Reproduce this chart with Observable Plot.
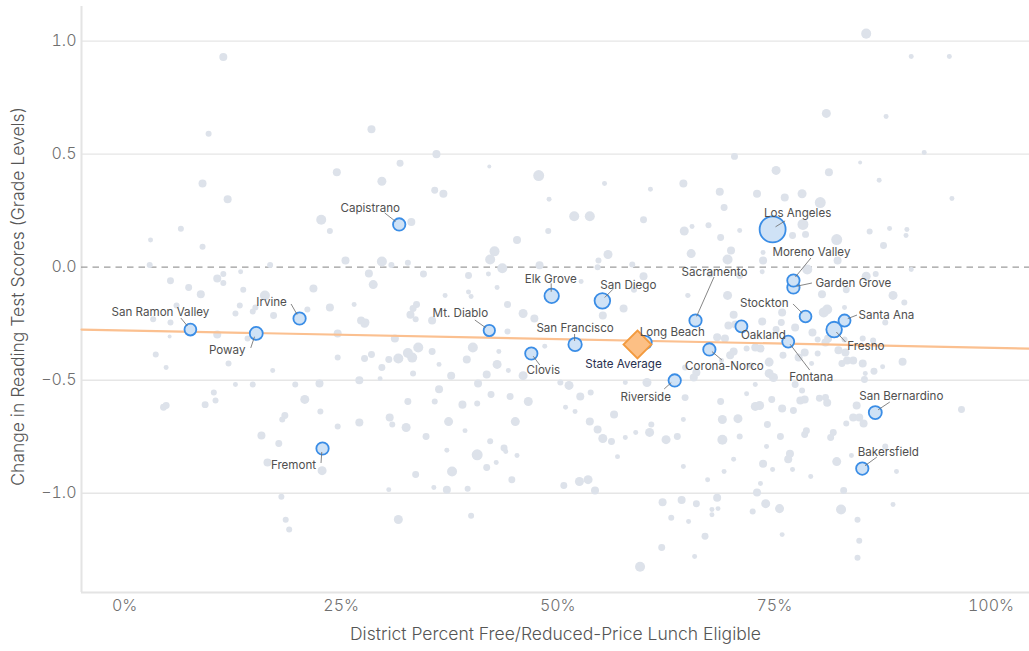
<!DOCTYPE html>
<html><head><meta charset="utf-8">
<script src="https://cdn.jsdelivr.net/npm/d3@7"></script>
<script src="https://cdn.jsdelivr.net/npm/@observablehq/plot@0.6"></script>
<style>body{margin:0;background:#fff;} #chart svg{display:block;}</style>
</head><body><div id="chart"></div>
<script>
// ---------- DATA ----------
const districtNames = ["San Ramon Valley","Poway","Irvine","Fremont","Capistrano","Mt. Diablo","Elk Grove","San Diego","San Francisco","Clovis","Long Beach","Riverside","Sacramento","Corona-Norco","Oakland","Fontana","Los Angeles","Garden Grove","Moreno Valley","Stockton","Fresno","Santa Ana","San Bernardino","Bakersfield"];
const districtPct =    [7.6, 15.2, 20.2, 22.85, 31.7, 42.1, 49.3, 55.15, 52.0, 46.95, 60.1, 63.5, 65.9, 67.5, 71.2, 76.6, 74.8, 77.2, 77.2, 78.6, 81.9, 83.1, 86.65, 85.15];
const districtChange = [-0.276, -0.293, -0.227, -0.802, 0.189, -0.280, -0.127, -0.149, -0.342, -0.382, -0.333, -0.501, -0.236, -0.364, -0.262, -0.329, 0.167, -0.090, -0.059, -0.218, -0.276, -0.236, -0.643, -0.891];
const districtEnroll = [124, 150, 136, 136, 136, 115, 184, 216, 159, 136, 150, 136, 136, 136, 128, 128, 600, 136, 136, 124, 216, 128, 150, 136];

const stateName = ["State Average"];
const statePct = [59.2];
const stateChange = [-0.342];

const trendPct = [-4.97, 104.45];
const trendChange = [-0.276, -0.360];

const xTicks = [0, 25, 50, 75, 100];
const yTicks = [-1.0, -0.5, 0.0, 0.5, 1.0];
const xDomain = [-4.97, 104.45];
const yDomain = [-1.439, 1.153];

// background districts: [percent eligible, change, enrollment (thousands)]
const background = [
[11.4,0.93,57],[9.7,0.59,32],[9.0,0.37,57],[11.9,0.30,57],[6.5,0.17,32],[3.0,0.12,22],[9.0,0.09,32],[24.5,0.42,57],[22.7,0.21,89],[23.7,0.16,32],
[2.9,0.01,32],[16.8,0.01,32],[25.5,0.03,57],[5.3,-0.06,43],[7.4,-0.09,43],[8.8,-0.12,57],[10.7,-0.05,57],[11.4,-0.03,32],[11.4,-0.07,32],[13.4,-0.02,22],
[13.7,-0.10,32],[16.2,-0.125,89],[21.8,-0.094,57],[6.0,-0.17,32],[13.3,-0.17,32],[14.8,-0.196,32],[15.1,-0.178,32],[12.8,-0.205,32],[17.2,-0.214,43],[21.1,-0.187,32],
[23.7,-0.178,57],[3.3,-0.23,32],[5.3,-0.245,32],[5.2,-0.307,14],[10.7,-0.298,57],[14.2,-0.315,32],[24.6,-0.293,57],[3.6,-0.386,32],[24.6,-0.40,32],[4.8,-0.444,22],
[12.0,-0.426,32],[17.1,-0.457,22],[12.8,-0.519,22],[14.8,-0.519,32],[19.7,-0.519,32],[22.5,-0.515,57],[10.3,-0.554,32],[10.5,-0.59,32],[20.8,-0.585,72],[4.5,-0.62,43],
[4.8,-0.612,43],[9.3,-0.608,43],[18.5,-0.656,43],[18.2,-0.674,32],[22.6,-0.638,32],[24.6,-0.705,32],[15.8,-0.745,57],[17.8,-0.78,43],[16.5,-0.864,57],[22.8,-0.90,72],
[18.1,-1.015,32],[18.6,-1.117,32],[19.0,-1.16,32],
[28.5,0.61,57],[36.0,0.50,57],[31.8,0.46,43],[42.1,0.445,14],[29.7,0.38,72],[35.8,0.34,43],[36.8,0.325,57],[47.8,0.405,107],[49.0,0.30,22],[55.4,0.37,22],
[60.7,0.345,22],[64.5,0.37,57],[51.9,0.225,89],[53.7,0.225,89],[59.9,0.21,43],[64.6,0.16,72],[33.1,0.20,57],[48.9,0.16,32],[45.3,0.12,57],[42.7,0.07,89],
[42.2,0.034,89],[29.7,0.025,89],[30.8,0.01,32],[32.7,0.02,32],[43.6,-0.005,89],[47.9,0.008,57],[54.7,0.03,32],[54.6,0.0,32],[55.8,0.056,72],[58.6,0.012,32],
[28.2,-0.028,57],[28.7,-0.077,72],[34.5,-0.03,43],[39.7,-0.037,43],[42.0,-0.03,22],[37.0,-0.125,22],[43.0,-0.09,22],[39.7,-0.11,22],[40.0,-0.13,22],[26.5,-0.165,22],
[33.7,-0.165,43],[33.3,-0.183,43],[33.0,-0.21,57],[44.2,-0.165,43],[46.0,-0.205,72],[47.3,-0.227,57],[52.7,-0.063,22],[57.6,-0.183,57],[59.9,-0.04,57],[58.8,-0.10,32],
[65.0,-0.125,22],[27.3,-0.236,57],[27.7,-0.25,57],[35.5,-0.236,57],[33.6,-0.23,32],[55.2,-0.214,57],
[85.6,1.033,89],[90.8,0.932,22],[95.2,0.932,22],[81.0,0.68,72],[87.9,0.666,22],[92.3,0.507,22],[70.4,0.49,43],[75.2,0.428,72],[81.3,0.42,57],[84.9,0.463,14],
[87.1,0.384,22],[68.7,0.334,57],[73.0,0.325,57],[76.2,0.308,57],[78.2,0.325,72],[80.3,0.286,107],[69.2,0.264,43],[95.5,0.304,22],[78.3,0.189,107],[77.1,0.14,43],
[78.6,0.145,43],[82.2,0.122,107],[86.0,0.158,32],[88.3,0.171,22],[90.3,0.167,22],[90.2,0.14,22],[67.4,0.185,32],[65.5,0.18,22],[71.0,0.162,22],[68.8,0.131,43],
[65.4,0.06,72],[70.0,0.074,57],[69.6,0.034,89],[73.7,0.03,57],[73.7,0.065,22],[82.3,0.03,57],[87.6,0.096,43],[78.8,-0.01,89],[73.6,-0.02,22],[90.8,-0.01,22],
[65.1,-0.125,14],[69.6,-0.125,72],[80.5,-0.12,57],[83.3,-0.1,43],[85.6,-0.04,72],[86.7,-0.03,32],[88.7,-0.125,72],[90.0,-0.156,32],[70.3,-0.21,57],[75.9,-0.20,57],
[80.7,-0.20,89],[81.1,-0.187,89],[83.1,-0.178,22],[87.8,-0.245,32],[67.6,-0.03,43],[71.0,-0.037,43],
[27.8,-0.245,57],[31.2,-0.315,57],[33.9,-0.355,89],[35.5,-0.373,43],[40.2,-0.355,89],[44.2,-0.285,32],[28.5,-0.386,43],[27.7,-0.404,43],[31.6,-0.404,89],[32.7,-0.38,89],
[33.2,-0.40,89],[39.5,-0.408,57],[29.7,-0.444,43],[30.5,-0.408,43],[36.3,-0.43,22],[43.0,-0.43,72],[27.1,-0.50,57],[29.5,-0.493,22],[33.3,-0.47,32],[37.7,-0.48,57],
[41.8,-0.475,57],[43.2,-0.373,22],[44.3,-0.457,22],[46.0,-0.48,72],[48.5,-0.35,22],[50.3,-0.51,32],[51.3,-0.523,72],[36.3,-0.54,57],[40.8,-0.515,57],[32.7,-0.594,43],
[35.8,-0.594,32],[39.0,-0.608,57],[40.7,-0.603,32],[42.3,-0.563,43],[44.5,-0.572,43],[46.6,-0.594,72],[52.6,-0.572,57],[53.8,-0.554,32],[50.9,-0.62,22],[52.0,-0.638,22],
[57.8,-0.51,22],[60.3,-0.51,72],[56.5,-0.652,57],[53.7,-0.683,57],[54.6,-0.718,57],[55.2,-0.758,72],[56.2,-0.771,43],[57.8,-0.753,22],[59.0,-0.731,22],[60.6,-0.731,72],
[60.8,-0.696,32],[62.5,-0.763,72],[63.8,-0.749,43],[64.5,-0.674,22],[64.5,-0.882,22],[56.9,-0.838,22],[30.6,-0.665,57],[30.9,-0.696,32],[27.1,-0.687,57],[32.5,-0.709,72],
[37.4,-0.683,72],[45.1,-0.683,72],[39.3,-0.723,22],[34.8,-0.749,43],[37.2,-0.81,22],[40.7,-0.83,107],[42.2,-0.77,32],[43.8,-0.80,43],[44.0,-0.815,22],[45.3,-0.833,22],
[42.9,-0.864,22],[41.8,-0.886,43],[37.8,-0.904,89],[33.6,-0.917,43],[44.7,-0.94,43],[30.5,-0.984,22],[35.7,-0.975,22],[37.2,-0.984,57],[39.6,-0.98,32],[50.7,-0.966,43],
[52.5,-0.948,72],[53.5,-0.94,72],[54.3,-0.988,57],[31.6,-1.116,72],[40.0,-1.10,32],[62.1,-1.04,57],[64.3,-1.03,57],[63.1,-1.108,32],[62.0,-1.24,43],[59.5,-1.325,89],
[89.8,-0.418,57],[87.5,-0.44,22],[86.5,-0.46,43],[85.5,-0.47,22],[85.2,-0.426,57],[85.4,-0.497,43],[84.1,-0.413,57],[83.4,-0.413,57],[82.8,-0.426,43],[83.2,-0.377,57],
[82.4,-0.368,57],[80.0,-0.382,32],[79.3,-0.426,22],[78.5,-0.377,57],[77.8,-0.40,57],[76.0,-0.39,43],[74.4,-0.42,72],[74.4,-0.47,72],[74.9,-0.488,72],[73.4,-0.36,57],
[72.8,-0.355,57],[72.3,-0.435,32],[71.8,-0.36,32],[70.3,-0.373,57],[69.9,-0.39,57],[69.3,-0.315,57],[68.4,-0.31,57],[69.7,-0.258,57],[70.5,-0.254,57],[73.6,-0.24,57],
[75.8,-0.245,43],[75.2,-0.276,43],[77.4,-0.267,57],[79.4,-0.289,57],[80.0,-0.32,32],[80.9,-0.333,57],[81.2,-0.315,57],[83.1,-0.32,32],[85.2,-0.315,32],[86.4,-0.324,32],
[66.0,-0.466,57],[65.7,-0.488,57],[64.7,-0.444,32],[68.9,-0.413,22],[64.7,-0.577,43],[68.8,-0.594,43],[72.8,-0.519,22],[71.8,-0.56,22],[74.7,-0.585,43],[72.8,-0.616,72],
[73.3,-0.612,72],[75.9,-0.625,57],[77.2,-0.634,43],[78.0,-0.59,57],[78.5,-0.585,57],[77.4,-0.519,43],[78.2,-0.546,32],[80.2,-0.58,43],[80.9,-0.576,43],[81.1,-0.60,57],
[83.3,-0.692,32],[84.1,-0.665,57],[84.8,-0.665,57],[85.3,-0.692,57],[84.5,-0.612,57],[69.0,-0.674,72],[70.8,-0.67,72],[74.2,-0.696,43],[75.7,-0.749,43],[78.5,-0.74,43],
[78.7,-0.723,43],[81.5,-0.753,43],[81.8,-0.731,43],[69.0,-0.763,89],[71.0,-0.749,32],[74.1,-0.793,22],[76.8,-0.825,57],[76.6,-0.85,57],[73.7,-0.869,57],[70.3,-0.85,22],
[69.2,-0.904,22],[67.3,-0.94,22],[73.4,-0.957,22],[74.8,-0.895,22],[77.1,-0.895,22],[79.2,-0.926,22],[82.2,-0.86,72],[83.9,-0.833,22],[87.8,-0.793,32],[89.1,-0.904,22],
[96.6,-0.63,43],[73.0,-0.997,57],[74.0,-1.046,72],[75.6,-1.068,72],[72.5,-1.081,32],[68.4,-1.02,57],[66.0,-1.046,43],[67.8,-1.072,22],[67.8,-1.095,22],[68.5,-1.068,22],
[65.1,-1.125,22],[67.0,-1.19,43],[65.8,-1.28,22],[75.9,-1.183,22],[83.0,-0.988,43],[82.7,-1.072,89],[84.6,-1.117,32],[84.8,-1.21,32],[84.6,-1.285,32],[88.7,-1.05,22]
];

// label placement (pixel offsets from the point): text offset + leader end
const labelLayout = {
  "San Ramon Valley": {dx:-30, dy:-17, anchor:"middle", ex:-9, ey:-11},
  "Poway": {dx:-29, dy:17, anchor:"middle", ex:-5, ey:15},
  "Irvine": {dx:-28, dy:-16, anchor:"middle", ex:-8, ey:-14},
  "Fremont": {dx:-29, dy:17, anchor:"middle", ex:-1, ey:15},
  "Capistrano": {dx:-29, dy:-16, anchor:"middle", ex:-14, ey:-11},
  "Mt. Diablo": {dx:-29, dy:-17, anchor:"middle", ex:-14, ey:-10},
  "Elk Grove": {dx:-1, dy:-17, anchor:"middle", ex:0, ey:-12},
  "San Diego": {dx:26, dy:-16, anchor:"middle", ex:11, ey:-11},
  "San Francisco": {dx:0, dy:-16, anchor:"middle", ex:0, ey:-10},
  "Clovis": {dx:12, dy:17, anchor:"middle", ex:9, ey:12},
  "Long Beach": {dx:27, dy:-10, anchor:"middle"},
  "Riverside": {dx:-29, dy:17, anchor:"middle", ex:-10, ey:9},
  "Sacramento": {dx:19, dy:-48, anchor:"middle", ex:19, ey:-43},
  "Corona-Norco": {dx:15, dy:17, anchor:"middle", ex:13, ey:11},
  "Oakland": {dx:22, dy:9, anchor:"middle"},
  "Fontana": {dx:23, dy:36, anchor:"middle", ex:22, ey:29},
  "Los Angeles": {dx:25, dy:-16, anchor:"middle", ex:13, ey:-8},
  "Garden Grove": {dx:22, dy:-4, anchor:"start", ex:19, ey:-4},
  "Moreno Valley": {dx:18, dy:-28, anchor:"middle", ex:18, ey:-22},
  "Stockton": {dx:-17, dy:-13, anchor:"end", ex:-12, ey:-12},
  "Fresno": {dx:13, dy:17, anchor:"start", ex:12, ey:13},
  "Santa Ana": {dx:14, dy:-5, anchor:"start", ex:13, ey:-5},
  "San Bernardino": {dx:26, dy:-16, anchor:"middle", ex:15, ey:-10},
  "Bakersfield": {dx:26, dy:-16, anchor:"middle", ex:15, ey:-11},
  "State Average": {dx:-14, dy:20, anchor:"middle", ex:-6, ey:9}
};

// ---------- TABLES ----------
const districts = districtNames.map((name, i) => ({name, pct: districtPct[i], change: districtChange[i], enroll: districtEnroll[i]}));
const bg = background.map(([pct, change, enroll]) => ({pct, change, enroll}));
const state = stateName.map((name, i) => ({name, pct: statePct[i], change: stateChange[i]}));
const trend = trendPct.map((pct, i) => ({pct, change: trendChange[i]}));

const FONT = "Inter, 'Noto Sans', sans-serif";

function leaders(index, scales) {
  const g = d3.create("svg:g").attr("stroke", "#707070").attr("stroke-width", 0.85).attr("fill", "none");
  for (const d of [...districts, ...state]) {
    const L = labelLayout[d.name];
    if (!L || L.ex === undefined) continue;
    const cx = scales.x(d.pct), cy = scales.y(d.change);
    const len = Math.hypot(L.ex, L.ey);
    const s = Math.min(4, len * 0.3);
    g.append("line")
      .attr("x1", cx + L.ex / len * s).attr("y1", cy + L.ey / len * s)
      .attr("x2", cx + L.ex).attr("y2", cy + L.ey);
  }
  return g.node();
}

const labelMarks = [...districts, ...state].map(d => {
  const L = labelLayout[d.name];
  return Plot.text([d], {
    x: "pct", y: "change", text: "name",
    dx: L.dx, dy: L.dy, textAnchor: L.anchor,
    fill: d.name === "State Average" ? "#27304f" : "#4f4f4f",
    fontSize: 11.6, fontFamily: FONT
  });
});

const plot = Plot.plot({
  width: 1029, height: 651,
  marginLeft: 81, marginRight: 0, marginTop: 6, marginBottom: 59,
  style: {fontFamily: FONT, background: "#fff", color: "#6f6f6f"},
  x: {domain: xDomain, label: null},
  y: {domain: yDomain, label: null},
  r: {type: "sqrt", domain: [0, 600], range: [0, 13]},
  marks: [
    Plot.ruleY(yTicks.filter(t => t !== 0), {stroke: "#e6e6e6", strokeWidth: 1.4}),
    Plot.ruleX([xDomain[0]], {stroke: "#e4e4e4", strokeWidth: 2}),
    Plot.ruleY([yDomain[0]], {stroke: "#e4e4e4", strokeWidth: 2}),
    Plot.axisX({ticks: xTicks, tickFormat: d => d + "%", tickSize: 0, tickPadding: 7, fontSize: 16, fontWeight: 300, label: null}),
    Plot.axisY({ticks: yTicks, tickFormat: d3.format(".1f"), tickSize: 0, tickPadding: 5, fontSize: 16, fontWeight: 300, label: null}),
    Plot.ruleY([0], {stroke: "#9c9c9c", strokeWidth: 1.4, strokeDasharray: "6.5,5"}),
    Plot.dot(bg, {x: "pct", y: "change", r: "enroll", fill: "#dde2ea", stroke: "none"}),
    Plot.line(trend, {x: "pct", y: "change", stroke: "#fbc090", strokeWidth: 2.2}),
    Plot.dot(districts, {x: "pct", y: "change", r: "enroll", fill: "#cfe2f6", stroke: "#3a8de6", strokeWidth: 1.8}),
    leaders,
    Plot.dot(state, {x: "pct", y: "change", symbol: "diamond2", r: 12.6, fill: "#fcbf84", stroke: "#f39a3e", strokeWidth: 1.8}),
    ...labelMarks,
    Plot.text(["District Percent Free/Reduced-Price Lunch Eligible"], {frameAnchor: "bottom", dy: 47, textAnchor: "middle", fontSize: 17.5, fontWeight: 300, fill: "#555", fontFamily: FONT}),
    Plot.text(["Change in Reading Test Scores (Grade Levels)"], {frameAnchor: "left", dx: -63, dy: -3, textAnchor: "middle", rotate: -90, fontSize: 17.5, fontWeight: 300, fill: "#555", fontFamily: FONT})
  ]
});
document.getElementById("chart").appendChild(plot);
</script></body></html>
